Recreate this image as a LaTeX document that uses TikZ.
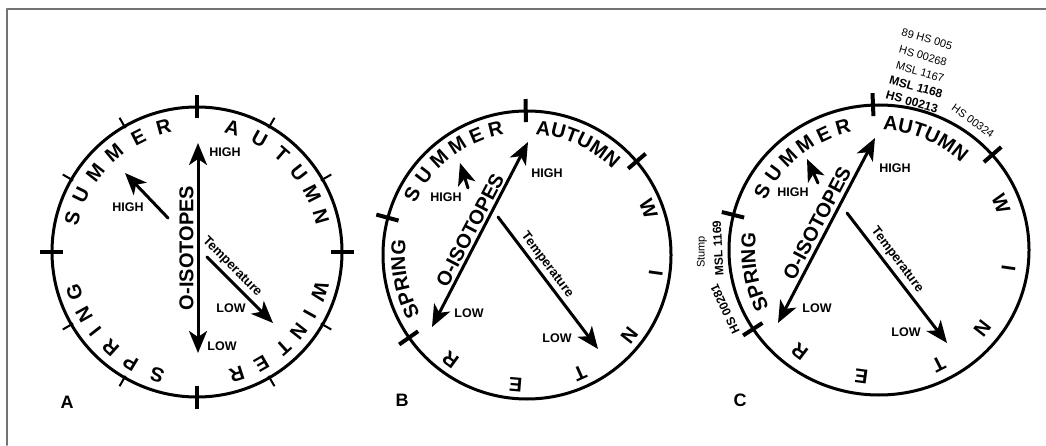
\documentclass[tikz,border=0pt]{standalone}
\usepackage{fontspec}
\setmainfont{Liberation Sans}
\usetikzlibrary{arrows.meta,calc,decorations.text}
\newcommand\seasonfont{\fontsize{20}{20}\selectfont\bfseries}
\newcommand\hilofont{\fontsize{12.5}{12.5}\selectfont\bfseries}
\newcommand\sampfont{\fontsize{11}{11}\selectfont}
\tikzset{
  dial/.style={line width=3pt},
  bigtick/.style={line width=4pt,line cap=butt},
  smalltick/.style={line width=2pt,line cap=butt},
  headtip/.tip={Stealth[length=22pt,width=18pt,inset=6pt]},
  iso/.style={line width=3pt,headtip-headtip},
  oneway/.style={line width=3pt,-headtip},
  letter/.style={font=\seasonfont,inner sep=0pt},
  hilo/.style={font=\hilofont,inner sep=0pt},
  tempo/.style={font=\fontsize{13}{13}\selectfont\bfseries,inner sep=0pt},
  panel/.style={font=\fontsize{18}{18}\selectfont\bfseries,inner sep=0pt},
  samp/.style={font=\sampfont,inner sep=0pt},
  bsamp/.style={font=\fontsize{12}{12}\selectfont\bfseries,inner sep=0pt}
}
\begin{document}
\begin{tikzpicture}[x=1pt,y=1pt,line cap=round,line join=round]
\useasboundingbox (0,0) rectangle (1046,445);
% frame
\draw[line width=2pt,black!55] (7,0) -- (7,436) -- (1046,436);

% ---------- A ----------
\coordinate (A) at (197,193);
\draw[dial] (A) circle (145);
\foreach \a in {0,90,180,270}
  \draw[bigtick] ($(A)+(\a:134)$) -- ($(A)+(\a:157)$);
\foreach \a in {30,60,120,150,210,240,300,330}
  \draw[smalltick] ($(A)+(\a:143)$) -- ($(A)+(\a:155)$);
\foreach \a/\c in {165/S,154/U,142/M,130/M,117/E,105/R,
                   74/A,61/U,49/T,38/U,27/M,16/N,
                   252/S,239/P,228/R,218/I,209/N,198/G,
                   342/W,331/I,322/N,312/T,300/E,288/R}
  \node[letter,rotate=\a-90] (A-l\a) at ($(A)+(\a:129)$) {\c};
\coordinate (A-isohi) at (198,302);
\coordinate (A-isolo) at (198,92);
\draw[iso] (A-isolo) -- (A-isohi);
\node[letter,rotate=90] (A-iso) at (186.5,197) {O-ISOTOPES};
\node[hilo] (A-hi) at (225,293) {HIGH};
\node[hilo] (A-lo) at (222,99) {LOW};
\coordinate (A-sumtail) at (168,227);
\coordinate (A-sumtip) at (125,272);
\draw[oneway] (A-sumtail) -- (A-sumtip);
\node[hilo] (A-sumhi) at (128,238) {HIGH};
\coordinate (A-temptail) at (207,188);
\coordinate (A-temptip) at (273,122);
\draw[oneway] (A-temptail) -- (A-temptip);
\node[tempo,rotate=-45] (A-temp) at (232,178) {Temperature};
\node[hilo] (A-templo) at (231,137) {LOW};
\node[panel] (A-name) at (67,43) {A};

% ---------- B ----------
\coordinate (B) at (527,190);
\draw[dial] (B) circle (144);
\foreach \a in {90.5,40.5,165,215}
  \draw[bigtick] ($(B)+(\a:133)$) -- ($(B)+(\a:156)$);
\foreach \a/\c in {152/S,142.5/U,132.5/M,122.5/M,113/E,104/R,
                   21/W,-8/I,-38/N,-66/T,-95/E,-126/R}
  \node[letter,rotate=\a-90] (B-l\a) at ($(B)+(\a:130)$) {\c};
\path[decorate,decoration={text along path,text align=center,
  text={|\seasonfont|AUTUMN}}]
  ($(B)+(100:121)$) arc[start angle=100,end angle=31,radius=121];
\path[decorate,decoration={text along path,text align=center,
  text={|\seasonfont|SPRING}}]
  ($(B)+(226:122)$) arc[start angle=226,end angle=156,radius=122];
\coordinate (B-isohi) at (528,303);
\coordinate (B-isolo) at (432,118);
\draw[iso] (B-isolo) -- (B-isohi);
\node[letter,rotate=62.4] (B-iso) at (470,215) {O-ISOTOPES};
\node[hilo] (B-hi) at (547,272) {HIGH};
\node[hilo] (B-lo) at (469,132) {LOW};
\coordinate (B-sumtail) at (468,257);
\coordinate (B-sumtip) at (460,282);
\draw[oneway] (B-sumtail) -- (B-sumtip);
\node[hilo] (B-sumhi) at (446,248) {HIGH};
\coordinate (B-temptail) at (498,228);
\coordinate (B-temptip) at (598,96);
\draw[oneway] (B-temptail) -- (B-temptip);
\node[tempo,rotate=-53] (B-temp) at (547,180) {Temperature};
\node[hilo] (B-templo) at (557,107) {LOW};
\node[panel] (B-name) at (402,45) {B};

% ---------- C ----------
\coordinate (C) at (879,195);
\draw[dial] (C) ellipse[x radius=150,y radius=145];
\foreach \a in {92.3,41,166,213}
  \draw[bigtick] ($(C)+(\a:139 and 134)$) -- ($(C)+(\a:162 and 157)$);
\foreach \a/\c in {153/S,143.5/U,134/M,124.5/M,115/E,106/R,
                   21.4/W,-8.3/I,-38/N,-63/T,-97.7/E,-127.2/R}
  \node[letter,rotate=\a-90] (C-l\a) at ($(C)+(\a:131 and 128)$) {\c};
\path[decorate,decoration={text along path,text align=center,
  text={|\seasonfont|AUTUMN}}]
  ($(C)+(102:120)$) arc[start angle=102,end angle=33,radius=120];
\path[decorate,decoration={text along path,text align=center,
  text={|\seasonfont|SPRING}}]
  ($(C)+(225:124)$) arc[start angle=225,end angle=155,radius=124];
\coordinate (C-isohi) at (875,307);
\coordinate (C-isolo) at (778,122);
\draw[iso] (C-isolo) -- (C-isohi);
\node[letter,rotate=62.4] (C-iso) at (817,222) {O-ISOTOPES};
\node[hilo] (C-hi) at (895,277) {HIGH};
\node[hilo] (C-lo) at (817,137) {LOW};
\coordinate (C-sumtail) at (818,262);
\coordinate (C-sumtip) at (807,286);
\draw[oneway] (C-sumtail) -- (C-sumtip);
\node[hilo] (C-sumhi) at (793,253) {HIGH};
\coordinate (C-temptail) at (847,232);
\coordinate (C-temptip) at (947,102);
\draw[oneway] (C-temptail) -- (C-temptip);
\node[tempo,rotate=-53] (C-temp) at (897,185) {Temperature};
\node[hilo] (C-templo) at (906,113) {LOW};
\node[panel] (C-name) at (740,45) {C};
% sample labels
\node[samp,rotate=-16] (s1) at (927,406) {89 HS 005};
\node[samp,rotate=-16] (s2) at (923,389) {HS 00268};
\node[samp,rotate=-16] (s3) at (920,373) {MSL 1167};
\node[bsamp,rotate=-16] (s4) at (916,358) {MSL 1168};
\node[bsamp,rotate=-16] (s5) at (912,343) {HS 00213};
\node[samp,rotate=-36] (s6) at (973,324) {HS 00324};
\node[samp,rotate=90] (s7) at (702,193) {Stump};
\node[bsamp,rotate=93] (s8) at (718,197) {MSL 1169};
\node[bsamp,rotate=115] (s9) at (725,136) {HS 00281};
\end{tikzpicture}
\end{document}
